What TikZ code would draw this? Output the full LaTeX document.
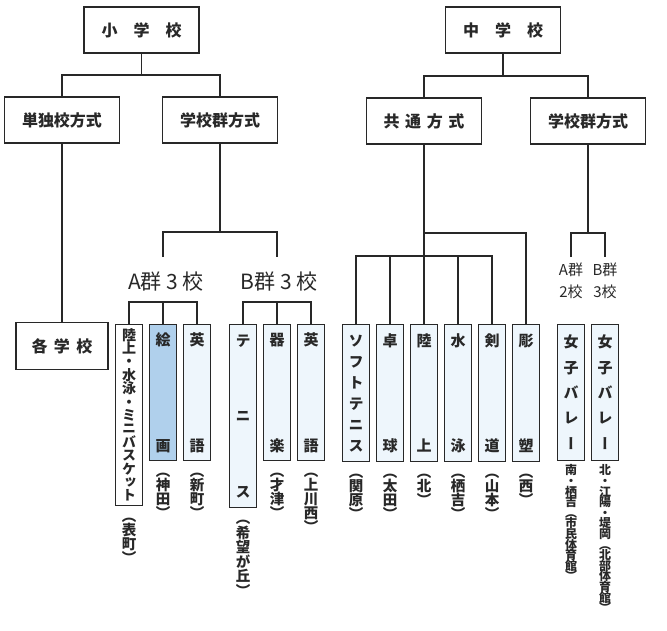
\documentclass[tikz,border=0pt]{standalone}
\usepackage{fontspec}
\usepackage{graphicx}
\usetikzlibrary{positioning}
\setmainfont{Noto Sans CJK JP}
\newfontfamily\tatefont[RawFeature=+vert]{Noto Sans CJK JP}
\definecolor{pale}{RGB}{238,246,252}
\definecolor{paint}{RGB}{176,208,236}
\definecolor{ink}{RGB}{40,40,40}

% vertical writing helpers
\newdimen\tatestep
\def\tatec#1{\hbox to 1.2em{\hss\vbox to\tatestep{\vss\hbox{\raisebox{-.38em}[0pt][0pt]{#1}}\vss}\hss}}
\def\tatei#1{\ifx\relax#1\else\tatec{#1}\expandafter\tatei\fi}
\def\tatef#1{\ifx\relax#1\else\tatec{#1}\vfill\expandafter\tatef\fi}
\newcommand\tate[2]{\tatestep=#1\relax\vbox{\offinterlineskip\expandafter\tatei#2\relax}}
\newcommand\tatespread[2]{\tatestep=1.1em\relax\vbox to #1{\offinterlineskip\expandafter\tatef#2\relax\unskip}}

\begin{document}
\begin{tikzpicture}[x=1pt,y=-1pt,line width=1.2pt,color=ink,
    head/.style={draw,line width=1.4pt,minimum width=115,minimum height=46,inner sep=0,
      font=\bfseries\fontsize{16}{16}\selectfont},
    tall/.style={draw,line width=1.4pt,fill=pale,anchor=north,minimum width=27,
      minimum height=137,inner sep=0,font=\tatefont\bfseries\fontsize{15}{15}\selectfont},
    under/.style={anchor=north,inner sep=0,font=\tatefont\bfseries\fontsize{14.5}{14.5}\selectfont},
    small/.style={anchor=north,inner sep=0,font=\tatefont\bfseries\fontsize{12}{12}\selectfont},
    grp/.style={inner sep=0,font=\fontsize{21}{21}\selectfont},
    grpsm/.style={inner sep=0,align=center,font=\fontsize{15}{22}\selectfont}]
  \useasboundingbox (0,0) rectangle (667,630);

  % elementary school
  \node[head] (sho) at (141.5,30) {小　学　校};
  \node[head] (tandoku) at (62,120) {単独校方式};
  \node[head] (gunS) at (220,120) {学校群方式};
  \node[head,minimum width=92,minimum height=47] (kaku) at (62,346) {各\hspace{.4em}学\hspace{.4em}校};
  \coordinate (shoJ) at (141.5,75);
  \draw (sho) -- (shoJ);
  \draw (tandoku.north) |- (shoJ) -| (gunS.north);
  \draw (tandoku) -- (kaku);

  \coordinate (gunSJ) at (220,232);
  \coordinate (aTop) at (163,257);
  \coordinate (bTop) at (277,257);
  \draw (gunS) -- (gunSJ);
  \draw (aTop) |- (gunSJ) -| (bTop);
  \node[grp] (agun) at (166,282) {A群 3 校};
  \node[grp] (bgun) at (279,282) {B群 3 校};

  % A group
  \node[tall,fill=white,minimum height=181,font=\tatefont\bfseries\fontsize{14}{14}\selectfont] (aRiku) at (129,324) {\tate{13.4pt}{陸上・水泳・ミニバスケット}};
  \node[tall,fill=paint,minimum height=136] (aKaiga) at (163,324) {\tatespread{122pt}{絵画}};
  \node[tall,minimum height=136] (aEigo) at (197,324) {\tatespread{122pt}{英語}};
  \node[under] (aRiku-u) at ([yshift=-2pt]aRiku.south) {\tate{14pt}{（表町）}};
  \node[under] (aKaiga-u) at ([yshift=-2pt]aKaiga.south) {\tate{14pt}{（神田）}};
  \node[under] (aEigo-u) at ([yshift=-2pt]aEigo.south) {\tate{14pt}{（新町）}};
  \coordinate (aBr) at (163,302);
  \draw (aRiku.north) |- (aBr) -| (aEigo.north);
  \draw (aBr) -- (aKaiga.north);

  % B group
  \node[tall,minimum height=183] (bTennis) at (243,324) {\tatespread{168pt}{テニス}};
  \node[tall,minimum height=136] (bKigaku) at (277,324) {\tatespread{122pt}{器楽}};
  \node[tall,minimum height=136] (bEigo) at (311,324) {\tatespread{122pt}{英語}};
  \node[under] (bTennis-u) at ([yshift=-2pt]bTennis.south) {\tate{14.5pt}{（希望が丘）}};
  \node[under] (bKigaku-u) at ([yshift=-2pt]bKigaku.south) {\tate{14pt}{（才津）}};
  \node[under] (bEigo-u) at ([yshift=-2pt]bEigo.south) {\tate{14pt}{（上川西）}};
  \coordinate (bBr) at (277,302);
  \draw (bTennis.north) |- (bBr) -| (bEigo.north);
  \draw (bBr) -- (bKigaku.north);

  % junior high school
  \node[head] (chu) at (503,30) {中　学　校};
  \node[head] (kyotsu) at (424,121) {共\hspace{.35em}通\hspace{.35em}方\hspace{.35em}式};
  \node[head] (gunC) at (588,121) {学校群方式};
  \coordinate (chuJ) at (503,76);
  \draw (chu) -- (chuJ);
  \draw (kyotsu.north) |- (chuJ) -| (gunC.north);

  \foreach \nm/\px/\word/\place in {soft/356/ソフトテニス/（関原）,taku/390/卓球/（太田）,
      riku/424/陸上/（北）,sui/458/水泳/（栖吉）,ken/492/剣道/（山本）,cho/526/彫塑/（西）}{
    \node[tall] (\nm) at (\px,324) {\tatespread{122pt}{\word}};
    \node[under] (\nm-u) at ([yshift=-2pt]\nm.south) {\tate{14pt}{\place}};
  }
  \coordinate (kyoJ) at (424,233);
  \coordinate (sixJ) at (424,256);
  \draw (kyotsu) -- (riku);
  \draw (kyoJ) -| (cho.north);
  \draw (soft.north) |- (sixJ) -| (ken.north);
  \draw (taku.north) -- (taku.north |- sixJ);
  \draw (sui.north) -- (sui.north |- sixJ);

  % volleyball
  \coordinate (gunCJ) at (588,233);
  \coordinate (jaTop) at (571,257);
  \coordinate (jbTop) at (605,257);
  \draw (gunC) -- (gunCJ);
  \draw (jaTop) |- (gunCJ) -| (jbTop);
  \node[grpsm] (jagun) at (571,281) {A群\\2校};
  \node[grpsm] (jbgun) at (605,281) {B群\\3校};
  \node[tall,minimum height=136] (jyoA) at (571,324) {\tatespread{118pt}{女子バレー}};
  \node[tall,minimum height=136] (jyoB) at (605,324) {\tatespread{118pt}{女子バレー}};
  \node[small] (jyoA-u) at ([yshift=-3pt]jyoA.south) {\tate{10.6pt}{南・栖吉（市民体育館）}};
  \node[small] (jyoB-u) at ([yshift=-3pt]jyoB.south) {\tate{10.6pt}{北・江陽・堤岡（北部体育館）}};
\end{tikzpicture}
\end{document}
